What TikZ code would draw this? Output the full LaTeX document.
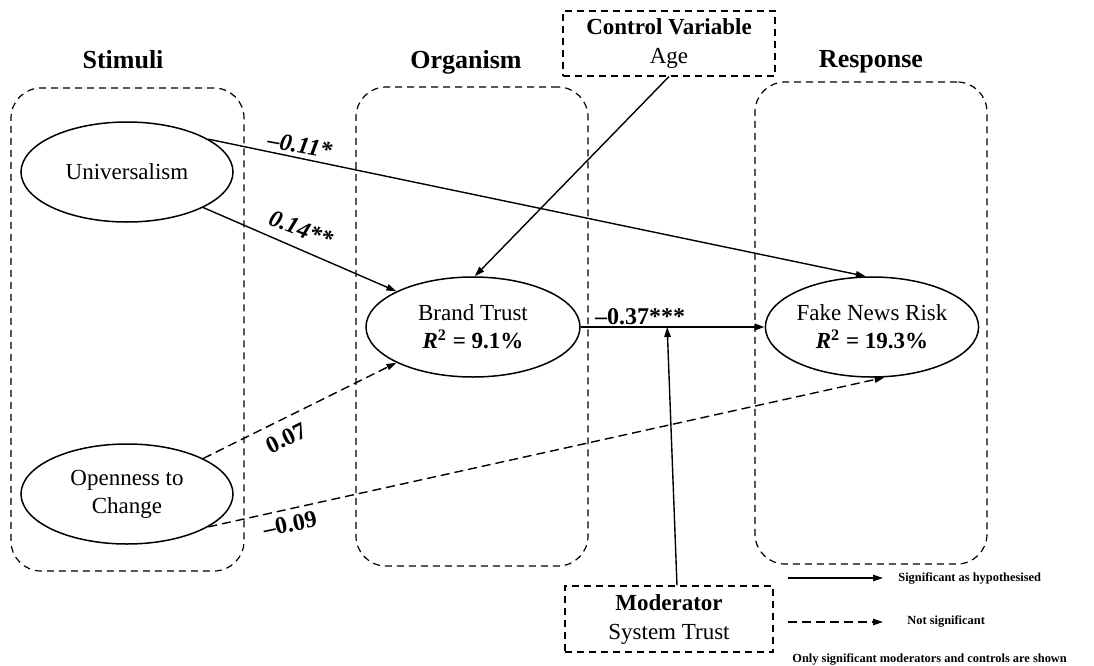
\documentclass[tikz,border=0pt]{standalone}
\usepackage{fontspec}
\setmainfont{Liberation Serif}
\usetikzlibrary{shapes.geometric,arrows.meta}

\begin{document}
\begin{tikzpicture}[x=0.5pt,y=-0.5pt,
  every node/.style={font=\fontsize{11.5}{14}\selectfont},
  construct/.style={ellipse,draw,line width=0.75pt,minimum width=106pt,minimum height=50pt,inner sep=0pt,align=center},
  groupbox/.style={draw,rectangle,rounded corners=15pt,line width=0.6pt,dash pattern=on 3.5pt off 2.5pt},
  infobox/.style={draw,rectangle,line width=0.55pt,dash pattern=on 3.5pt off 2.5pt,align=center,inner sep=0pt,
    font=\fontsize{11.5}{14.5}\selectfont},
  heading/.style={font=\fontsize{13}{15}\selectfont\bfseries,anchor=base},
  sigpath/.style={line width=0.7pt,-{Triangle[length=5pt,width=3.2pt]}},
  nspath/.style={sigpath,dash pattern=on 4.5pt off 2.5pt},
  coef/.style={font=\fontsize{12}{14}\selectfont\bfseries,inner sep=1pt},
  coefit/.style={coef,font=\fontsize{12}{14}\selectfont\bfseries\itshape},
  legendtext/.style={font=\fontsize{6.2}{7}\selectfont\bfseries,anchor=west,inner sep=0pt},
]
\useasboundingbox (0,0) rectangle (1094,665);

% S-O-R stage headings
\node[heading] (hS) at (123,68) {Stimuli};
\node[heading] (hO) at (466,68) {Organism};
\node[heading] (hR) at (871,67) {Response};

% stage containers
\node[groupbox,minimum width=116.5pt,minimum height=241.5pt] (stim) at (127.5,329.5) {};
\node[groupbox,minimum width=116pt,minimum height=239.5pt] (org) at (472,326.5) {};
\node[groupbox,minimum width=116pt,minimum height=241pt] (resp) at (871,323) {};

% constructs
\node[construct] (univ) at (127,172) {Universalism};
\node[construct] (open) at (127,494) {Openness to\\Change};
\node[construct,minimum width=107pt] (bt) at (473,327) {Brand Trust\\\textbf{\textit{R}\textsuperscript{2} = 9.1\%}};
\node[construct] (fnr) at (872,327) {Fake News Risk\\\textbf{\textit{R}\textsuperscript{2} = 19.3\%}};

% control variable and moderator
\node[infobox,minimum width=106pt,minimum height=32.5pt] (ctrl) at (669,43.5) {\textbf{Control Variable}\\Age};
\node[infobox,minimum width=104pt,minimum height=33pt] (mod) at (669,619) {\textbf{Moderator}\\System Trust};

% structural paths
\draw[sigpath] (univ.22) -- (fnr.97);
\draw[sigpath] (univ.-25) -- (bt.155);
\draw[nspath] (open.25) -- (bt.205);
\draw[nspath] (open.-22) -- (fnr.-76);
\draw[sigpath,line width=1.2pt] (bt.east) -- (fnr.west)
  coordinate[pos=0.47] (modtarget);
\draw[sigpath] (ctrl.south) -- (bt.88);
\draw[sigpath] ([xshift=4pt]mod.north) -- (modtarget);

% path coefficients
\node[coefit,rotate=-10] (c1) at (300,145) {\textendash0.11*};
\node[coefit,rotate=-21] (c2) at (301,229) {0.14**};
\node[coef,rotate=26] (c3) at (286,438) {0.07};
\node[coef,rotate=12] (c4) at (290,524) {\textendash0.09};
\node[coef] (c5) at (640,317) {\textendash0.37***};

% legend
\coordinate (sigA) at (788,578);
\coordinate (sigB) at (883,578);
\coordinate (nsA) at (788,622);
\coordinate (nsB) at (883,622);
\draw[sigpath] (sigA) -- (sigB);
\draw[nspath] (nsA) -- (nsB);
\node[legendtext] (sigtxt) at (898,578) {Significant as hypothesised};
\node[legendtext] (nstxt) at (907,621) {Not significant};
\node[legendtext] (note) at (792,659) {Only significant moderators and controls are shown};
\end{tikzpicture}
\end{document}
